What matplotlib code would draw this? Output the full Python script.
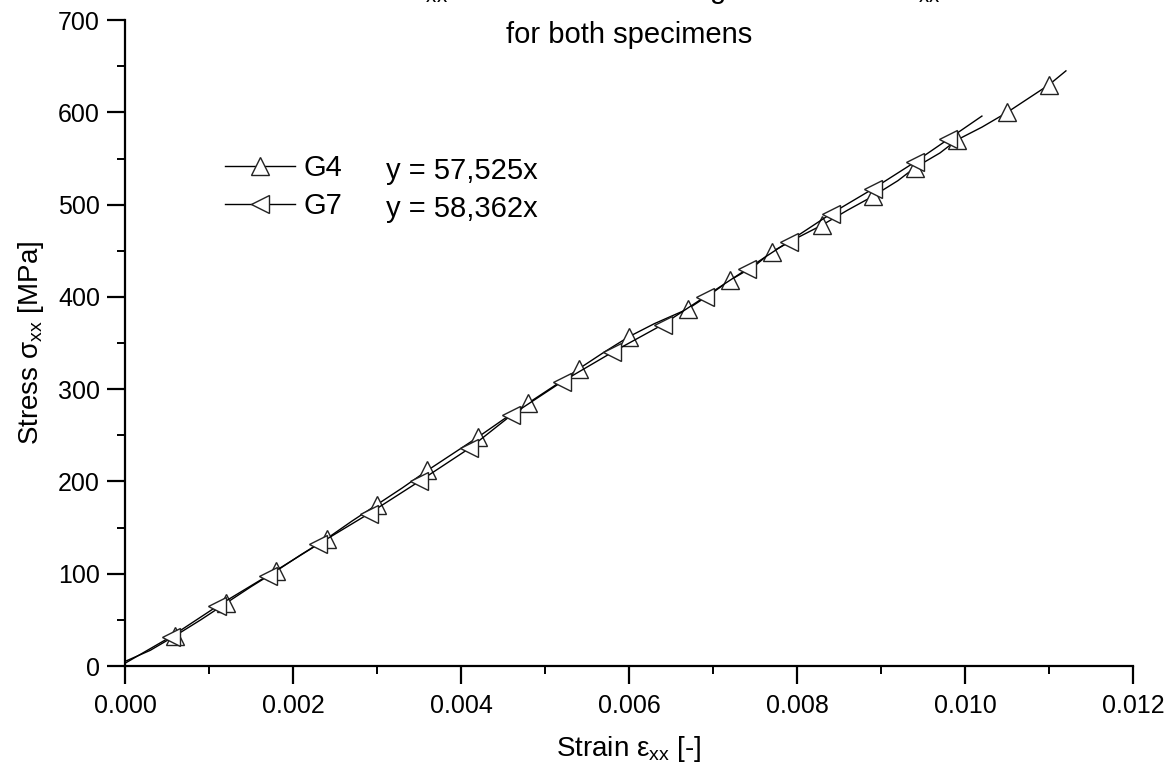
import numpy as np
import matplotlib.pyplot as plt
from matplotlib.ticker import MultipleLocator

plt.rcParams['font.family'] = ['Liberation Sans', 'DejaVu Sans']
plt.rcParams['mathtext.fontset'] = 'custom'
plt.rcParams['mathtext.rm'] = 'Liberation Sans'

# G4 specimen, strain [-] and stress [MPa]
g4_strain = [0.0, 0.0003, 0.0006, 0.0009, 0.0012, 0.0015, 0.0018, 0.0021, 0.0024, 0.0027,
             0.0030, 0.0033, 0.0036, 0.0039, 0.0042, 0.0045, 0.0048, 0.0051, 0.0054, 0.0057,
             0.0060, 0.0063, 0.0067, 0.0070, 0.0072, 0.0075, 0.0077, 0.0080, 0.0083, 0.0086,
             0.0089, 0.0092, 0.0094, 0.0097, 0.0099, 0.0102, 0.0105, 0.0108, 0.0110, 0.0112]
g4_stress = [5, 17, 33, 50, 68, 86, 103, 121, 138, 157,
             175, 193, 212, 230, 248, 267, 285, 303, 322, 340,
             357, 371, 387, 405, 418, 434, 449, 464, 478, 494,
             509, 526, 540, 556, 570, 584, 600, 618, 630, 645]
g4_marks = [0.0006, 0.0012, 0.0018, 0.0024, 0.0030, 0.0036, 0.0042, 0.0048, 0.0054, 0.0060,
            0.0067, 0.0072, 0.0077, 0.0083, 0.0089, 0.0094, 0.0099, 0.0105, 0.0110]

# G7 specimen
g7_strain = [0.0, 0.00055, 0.0011, 0.0017, 0.0023, 0.0029, 0.0035, 0.0041, 0.0046, 0.0052,
             0.0058, 0.0064, 0.0069, 0.0074, 0.0079, 0.0084, 0.0089, 0.0094, 0.0098, 0.0102]
g7_stress = [3, 32, 65, 98, 132, 165, 200, 236, 272, 308,
             340, 370, 400, 430, 460, 490, 517, 546, 571, 596]
g7_marks = [0.00055, 0.0011, 0.0017, 0.0023, 0.0029, 0.0035, 0.0041, 0.0046, 0.0052, 0.0058,
            0.0064, 0.0069, 0.0074, 0.0079, 0.0084, 0.0089, 0.0094, 0.0098]

fits = {'G4': 'y = 57,525x', 'G7': 'y = 58,362x'}

fig = plt.figure(figsize=(11.73, 7.74), dpi=100)
ax = fig.add_axes([0.1066, 0.1395, 0.8594, 0.8345])

mk4 = [g4_strain.index(v) for v in g4_marks]
mk7 = [g7_strain.index(v) for v in g7_marks]
ax.plot(g4_strain, g4_stress, color='black', lw=1.0, marker='^', ms=13,
        mfc='white', mec='#222222', mew=1.0, markevery=mk4, label='G4')
ax.plot(g7_strain, g7_stress, color='black', lw=1.0, marker='<', ms=13,
        mfc='white', mec='#222222', mew=1.0, markevery=mk7, label='G7')

ax.set_xlim(0, 0.012)
ax.set_ylim(0, 700)
ax.xaxis.set_major_locator(MultipleLocator(0.002))
ax.xaxis.set_minor_locator(MultipleLocator(0.001))
ax.yaxis.set_major_locator(MultipleLocator(100))
ax.yaxis.set_minor_locator(MultipleLocator(50))
ax.xaxis.set_major_formatter(plt.FuncFormatter(lambda v, p: f'{v:.3f}'))

for s in ['top', 'right']:
    ax.spines[s].set_visible(False)
for s in ['left', 'bottom']:
    ax.spines[s].set_linewidth(1.6)
ax.tick_params(which='major', direction='out', length=13, width=1.6, labelsize=18)
ax.tick_params(axis='x', which='major', pad=7)
ax.tick_params(axis='y', which='major', pad=5)
ax.tick_params(which='minor', direction='out', length=6, width=1.4)

ax.set_xlabel(r'Strain ε$_\mathrm{xx}$ [-]', fontsize=20, labelpad=12)
ax.set_ylabel(r'Stress σ$_\mathrm{xx}$ [MPa]', fontsize=20, labelpad=9)

ax.legend(loc='upper left', bbox_to_anchor=(0.0992, 0.792), frameon=False,
          borderpad=0, borderaxespad=0, fontsize=21, handlelength=2.4,
          handletextpad=0.28, labelspacing=0.32)
ax.text(0.259, 0.767, fits['G4'], transform=ax.transAxes, fontsize=21, va='center')
ax.text(0.259, 0.708, fits['G7'], transform=ax.transAxes, fontsize=21, va='center')

fig.text(0.536, 1.003, r'Stress σ$_\mathrm{xx}$ in relation to the longitudinal strain ε$_\mathrm{xx}$',
         ha='center', va='baseline', fontsize=21)
fig.text(0.536, 0.955, 'for both specimens', ha='center', va='center', fontsize=21)

fig.savefig('out.png', dpi=100)
